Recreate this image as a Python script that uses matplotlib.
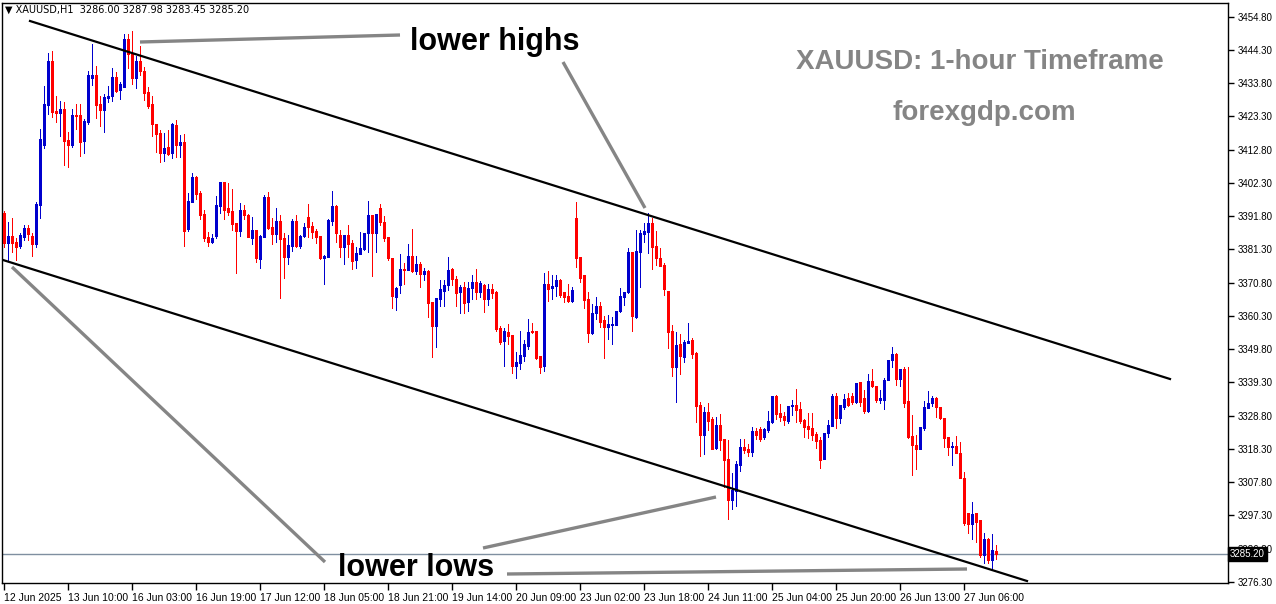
import matplotlib
matplotlib.use("Agg")
import matplotlib.pyplot as plt
import numpy as np

# ---- data: XAUUSD H1 candles (bar 0 = 12 Jun 18:00) ----
opens = [
    3392.7, 3383.2, 3385.6, 3383.7, 3382.5, 3385.3, 3388.2, 3385.6, 3383.0, 3395.3,
    3414.3, 3426.9, 3440.9, 3425.0, 3424.4, 3425.6, 3415.8, 3414.3, 3423.8, 3423.8,
    3415.5, 3421.4, 3435.5, 3436.4, 3427.2, 3425.3, 3429.2, 3429.9, 3435.9, 3431.7,
    3432.7, 3447.8, 3442.9, 3435.5, 3440.8, 3437.6, 3430.9, 3427.2, 3420.9, 3418.0,
    3411.9, 3413.6, 3411.9, 3420.6, 3414.3, 3415.3, 3387.7, 3396.4, 3404.3, 3399.2,
    3392.5, 3385.3, 3383.7, 3385.6, 3395.1, 3402.7, 3394.3, 3393.4, 3389.5, 3387.2,
    3393.8, 3392.2, 3385.0, 3387.4, 3378.2, 3385.3, 3397.7, 3388.5, 3386.1, 3390.2,
    3385.0, 3379.0, 3382.5, 3390.2, 3382.5, 3385.5, 3391.4, 3388.7, 3387.1, 3385.5,
    3378.7, 3379.0, 3390.4, 3395.0, 3386.0, 3382.1, 3385.8, 3383.4, 3377.9, 3379.8,
    3381.3, 3386.6, 3392.1, 3386.6, 3394.3, 3390.0, 3385.1, 3378.7, 3366.4, 3369.9,
    3375.1, 3374.8, 3379.2, 3374.5, 3376.7, 3373.4, 3374.5, 3364.6, 3357.1, 3365.6,
    3368.3, 3370.1, 3375.1, 3372.0, 3368.0, 3369.3, 3364.8, 3369.0, 3371.1, 3368.0,
    3370.1, 3365.5, 3368.8, 3368.0, 3356.6, 3352.5, 3355.3, 3354.3, 3344.5, 3345.4,
    3347.5, 3350.9, 3355.6, 3355.6, 3347.5, 3344.5, 3370.3, 3369.2, 3369.6, 3371.5,
    3367.7, 3366.6, 3365.1, 3391.1, 3379.0, 3373.3, 3365.7, 3355.0, 3361.3, 3363.5,
    3359.0, 3356.9, 3357.5, 3357.5, 3361.7, 3366.4, 3367.7, 3380.6, 3359.8, 3380.6,
    3386.1, 3386.9, 3389.7, 3382.4, 3378.5, 3376.4, 3368.3, 3355.5, 3344.3, 3351.4,
    3347.4, 3351.8, 3352.7, 3348.7, 3332.2, 3322.7, 3330.0, 3327.7, 3318.5, 3325.8,
    3321.3, 3315.1, 3302.2, 3305.1, 3313.2, 3318.8, 3318.2, 3317.2, 3323.9, 3324.6,
    3321.9, 3324.1, 3326.9, 3335.0, 3329.5, 3328.7, 3327.2, 3331.7, 3332.2, 3330.8,
    3327.4, 3325.5, 3324.8, 3322.9, 3321.1, 3315.0, 3323.4, 3325.6, 3335.0, 3328.0,
    3331.6, 3334.3, 3335.0, 3333.0, 3339.3, 3334.3, 3330.4, 3339.7, 3338.2, 3333.7,
    3333.7, 3339.9, 3346.4, 3348.3, 3340.3, 3343.4, 3333.4, 3322.4, 3319.5, 3318.3,
    3324.8, 3331.3, 3332.7, 3334.5, 3331.6, 3328.0, 3322.2, 3319.0, 3319.2, 3316.9,
    3309.2, 3297.9, 3294.6, 3297.9, 3295.8, 3284.8, 3289.8, 3283.2, 3286.00,
]
highs = [
    3393.5, 3390.1, 3391.3, 3384.8, 3386.4, 3389.0, 3389.0, 3386.4, 3396.4, 3419.3,
    3432.9, 3443.2, 3444.0, 3429.8, 3428.2, 3427.8, 3418.3, 3425.6, 3427.2, 3427.2,
    3422.4, 3437.6, 3446.2, 3439.2, 3429.8, 3430.3, 3432.9, 3438.7, 3437.2, 3434.3,
    3449.2, 3449.2, 3450.3, 3442.5, 3445.5, 3439.0, 3432.7, 3429.8, 3420.9, 3419.0,
    3418.2, 3419.0, 3421.1, 3422.2, 3417.4, 3417.6, 3399.2, 3405.5, 3404.6, 3399.9,
    3393.8, 3386.7, 3386.1, 3398.2, 3402.7, 3402.7, 3402.4, 3400.3, 3389.7, 3395.9,
    3395.3, 3392.4, 3391.4, 3387.4, 3385.8, 3398.5, 3399.5, 3391.1, 3394.3, 3392.1,
    3386.4, 3385.8, 3390.9, 3392.1, 3385.8, 3389.5, 3395.6, 3390.0, 3387.9, 3385.5,
    3379.5, 3390.8, 3399.8, 3395.3, 3387.4, 3385.8, 3389.0, 3384.2, 3382.1, 3386.9,
    3386.6, 3396.6, 3392.1, 3392.5, 3395.5, 3392.0, 3385.1, 3378.7, 3369.5, 3379.9,
    3377.1, 3383.0, 3387.8, 3379.2, 3377.4, 3375.3, 3374.8, 3364.6, 3365.9, 3371.6,
    3371.6, 3379.0, 3375.5, 3372.9, 3370.1, 3371.1, 3371.1, 3373.2, 3375.0, 3371.3,
    3370.4, 3370.3, 3370.3, 3368.2, 3357.1, 3356.4, 3357.7, 3354.3, 3348.8, 3355.6,
    3352.7, 3359.4, 3358.2, 3355.6, 3347.5, 3373.8, 3374.5, 3373.3, 3373.3, 3371.9,
    3368.0, 3370.4, 3369.3, 3396.2, 3379.0, 3373.3, 3368.0, 3364.0, 3366.2, 3364.8,
    3360.3, 3360.6, 3360.1, 3362.0, 3369.0, 3368.0, 3381.9, 3380.6, 3387.4, 3387.4,
    3389.5, 3392.9, 3391.1, 3387.2, 3381.9, 3377.1, 3368.3, 3357.4, 3355.3, 3354.5,
    3352.7, 3358.2, 3353.4, 3349.0, 3333.2, 3331.6, 3332.7, 3328.5, 3328.3, 3329.3,
    3321.3, 3321.1, 3310.6, 3314.6, 3321.3, 3321.3, 3319.7, 3325.3, 3324.8, 3325.1,
    3325.0, 3330.3, 3335.0, 3335.3, 3332.4, 3330.1, 3331.9, 3333.7, 3337.2, 3333.0,
    3327.6, 3329.5, 3329.7, 3323.7, 3322.2, 3323.4, 3327.4, 3335.5, 3335.9, 3332.2,
    3335.6, 3336.1, 3335.9, 3339.2, 3339.5, 3336.9, 3342.0, 3343.4, 3338.2, 3336.9,
    3340.6, 3346.4, 3350.6, 3348.7, 3343.4, 3344.3, 3344.3, 3329.0, 3322.7, 3325.1,
    3333.4, 3336.6, 3335.0, 3334.8, 3331.6, 3328.0, 3322.2, 3320.6, 3322.5, 3320.6,
    3311.1, 3297.9, 3301.4, 3297.9, 3295.8, 3291.8, 3290.0, 3291.4, 3287.98,
]
lows = [
    3382.0, 3378.0, 3380.6, 3378.0, 3381.6, 3384.3, 3384.3, 3379.3, 3382.2, 3391.3,
    3413.4, 3424.0, 3423.2, 3421.6, 3417.1, 3408.0, 3407.4, 3413.8, 3419.3, 3410.9,
    3411.9, 3420.9, 3433.2, 3422.9, 3420.4, 3418.5, 3428.0, 3428.2, 3430.9, 3428.8,
    3432.7, 3438.7, 3433.5, 3432.4, 3436.4, 3428.5, 3426.1, 3417.2, 3412.2, 3409.0,
    3409.2, 3411.1, 3410.3, 3410.6, 3410.6, 3382.5, 3387.1, 3396.4, 3397.2, 3390.9,
    3384.0, 3382.5, 3383.2, 3385.0, 3392.7, 3390.9, 3392.2, 3387.4, 3373.7, 3385.6,
    3390.9, 3385.3, 3382.9, 3377.4, 3375.5, 3385.1, 3387.9, 3383.0, 3383.7, 3366.0,
    3372.4, 3376.6, 3380.9, 3382.1, 3381.9, 3385.1, 3385.3, 3384.8, 3383.2, 3378.2,
    3370.4, 3379.0, 3389.0, 3383.7, 3379.0, 3376.7, 3379.0, 3375.0, 3375.3, 3379.8,
    3381.1, 3380.6, 3372.9, 3380.6, 3389.0, 3384.1, 3378.0, 3362.9, 3362.2, 3367.6,
    3370.4, 3374.8, 3374.3, 3373.4, 3369.5, 3371.6, 3360.1, 3347.4, 3350.6, 3363.5,
    3363.4, 3368.5, 3370.1, 3363.4, 3361.3, 3361.3, 3362.0, 3365.6, 3365.6, 3366.2,
    3361.6, 3363.8, 3366.1, 3355.6, 3351.4, 3344.5, 3351.5, 3342.4, 3340.6, 3343.5,
    3346.2, 3349.9, 3354.8, 3346.6, 3342.2, 3342.9, 3365.1, 3365.6, 3366.6, 3366.2,
    3364.6, 3364.8, 3364.8, 3375.7, 3371.1, 3362.7, 3351.9, 3354.5, 3359.2, 3356.7,
    3347.1, 3352.9, 3351.5, 3357.3, 3361.4, 3363.8, 3367.5, 3355.6, 3359.5, 3369.3,
    3383.7, 3380.3, 3375.1, 3376.4, 3376.2, 3366.9, 3350.3, 3341.3, 3333.2, 3341.9,
    3345.8, 3351.6, 3347.1, 3326.9, 3316.0, 3316.7, 3324.3, 3318.1, 3318.3, 3317.9,
    3306.4, 3296.0, 3299.2, 3300.2, 3311.4, 3316.9, 3316.0, 3316.0, 3321.3, 3320.9,
    3321.3, 3323.7, 3326.6, 3327.7, 3327.1, 3325.9, 3326.6, 3329.0, 3326.9, 3326.6,
    3322.0, 3321.6, 3321.1, 3318.5, 3312.2, 3315.0, 3322.0, 3325.5, 3325.0, 3326.4,
    3330.8, 3331.9, 3332.4, 3332.7, 3331.9, 3329.5, 3330.1, 3337.7, 3333.2, 3332.7,
    3330.9, 3339.9, 3344.3, 3338.5, 3338.0, 3331.6, 3321.6, 3310.1, 3311.9, 3318.3,
    3324.1, 3331.1, 3331.9, 3328.5, 3327.6, 3319.0, 3316.4, 3313.2, 3316.9, 3309.0,
    3294.3, 3291.6, 3289.7, 3289.0, 3284.3, 3282.4, 3282.4, 3280.1, 3283.45,
]
closes = [
    3383.2, 3385.6, 3383.2, 3382.2, 3385.9, 3388.2, 3386.1, 3383.0, 3395.6, 3416.2,
    3427.2, 3440.9, 3424.6, 3424.4, 3425.6, 3415.5, 3414.3, 3423.8, 3423.4, 3415.3,
    3421.9, 3436.4, 3436.4, 3426.9, 3425.3, 3429.5, 3429.9, 3435.9, 3431.4, 3433.5,
    3447.8, 3443.0, 3435.5, 3440.8, 3437.6, 3430.8, 3426.6, 3420.8, 3417.6, 3411.9,
    3413.4, 3411.3, 3420.8, 3414.3, 3415.3, 3387.1, 3396.6, 3404.3, 3398.8, 3392.2,
    3385.0, 3383.7, 3385.0, 3395.3, 3402.7, 3393.8, 3393.2, 3389.3, 3387.2, 3393.8,
    3392.2, 3385.3, 3387.4, 3378.7, 3385.5, 3397.7, 3388.1, 3386.1, 3390.2, 3384.6,
    3379.0, 3382.7, 3390.2, 3382.5, 3385.5, 3388.5, 3388.5, 3386.9, 3385.3, 3378.5,
    3379.2, 3390.6, 3395.0, 3386.4, 3382.1, 3385.8, 3383.0, 3377.7, 3380.2, 3381.8,
    3386.6, 3392.1, 3386.6, 3392.5, 3389.8, 3384.8, 3378.7, 3366.6, 3369.0, 3375.0,
    3374.8, 3379.2, 3374.5, 3376.7, 3373.4, 3374.5, 3364.5, 3357.1, 3365.9, 3368.7,
    3370.1, 3374.8, 3371.9, 3367.6, 3369.3, 3364.5, 3369.0, 3370.9, 3368.0, 3370.8,
    3365.5, 3368.7, 3367.6, 3356.1, 3352.2, 3355.6, 3354.1, 3344.5, 3345.6, 3348.0,
    3351.3, 3355.3, 3355.1, 3346.9, 3344.3, 3370.3, 3368.8, 3369.8, 3371.5, 3366.9,
    3366.4, 3365.1, 3368.5, 3378.7, 3372.4, 3365.4, 3355.0, 3361.1, 3363.5, 3358.5,
    3356.7, 3357.8, 3357.8, 3361.9, 3366.6, 3368.0, 3380.4, 3360.3, 3380.8, 3386.4,
    3387.1, 3389.7, 3382.2, 3378.5, 3376.2, 3368.8, 3355.3, 3344.3, 3351.1, 3347.7,
    3351.9, 3352.5, 3348.3, 3331.9, 3322.7, 3330.0, 3327.2, 3318.3, 3325.8, 3321.1,
    3314.8, 3302.2, 3305.3, 3313.5, 3318.8, 3317.9, 3317.4, 3323.9, 3322.7, 3321.4,
    3324.5, 3327.1, 3335.0, 3329.3, 3328.5, 3327.4, 3331.9, 3331.9, 3330.6, 3327.1,
    3325.1, 3324.5, 3322.7, 3320.9, 3314.8, 3323.4, 3325.9, 3335.0, 3328.0, 3332.0,
    3334.1, 3332.2, 3333.0, 3339.2, 3333.2, 3330.4, 3339.7, 3338.0, 3333.7, 3334.3,
    3340.1, 3346.4, 3348.3, 3340.3, 3343.4, 3332.9, 3322.2, 3319.5, 3318.3, 3325.1,
    3331.6, 3332.9, 3334.5, 3331.6, 3328.0, 3321.6, 3319.0, 3319.2, 3316.9, 3309.0,
    3294.8, 3294.6, 3297.7, 3295.3, 3284.8, 3289.8, 3283.2, 3286.4, 3285.20,
]

time_labels = ["12 Jun 2025", "13 Jun 10:00", "16 Jun 03:00", "16 Jun 19:00",
               "17 Jun 12:00", "18 Jun 05:00", "18 Jun 21:00", "19 Jun 14:00",
               "20 Jun 09:00", "23 Jun 02:00", "23 Jun 18:00", "24 Jun 11:00",
               "25 Jun 04:00", "25 Jun 20:00", "26 Jun 13:00", "27 Jun 06:00"]
label_every = 16
price_ticks = [3276.30 + 10.5 * k for k in range(18)]
last_price = 3285.20

# ---- screen mapping (chart was 4 px per bar, 3.166 px per dollar) ----
W, H = 1276, 604
def bx(px):
    return (px - 3.5) / 4.0
def pr(py):
    return 3454.8 - (py - 16.7) / 3.166

BLUE = '#0000CD'
RED = '#FF0000'
GRAY = '#858585'
FONT = 'Liberation Sans'

fig = plt.figure(figsize=(W / 100, H / 100), dpi=100)
fig.patch.set_facecolor('white')
L, R, T, B = 2, 1228, 3, 583
ax = fig.add_axes([L / W, (H - B) / H, (R - L) / W, (B - T) / H])
ax.set_xlim(bx(L), bx(R))
ax.set_ylim(pr(B), pr(T))

o = np.array(opens); h = np.array(highs); l = np.array(lows); c = np.array(closes)
idx = np.arange(len(o))
cols = np.where(c >= o, BLUE, RED)
px_pt = 72.0 / 100.0
ax.vlines(idx, l, h, colors=cols, linewidth=1.0 * px_pt, antialiased=False, zorder=3)
body_lo = np.minimum(o, c)
body_hi = np.maximum(np.maximum(o, c), body_lo + 0.35)
ax.vlines(idx, body_lo, body_hi, colors=cols, linewidth=3.0 * px_pt,
          antialiased=False, zorder=4, capstyle='butt')

# channel lines
ax.plot([bx(30), bx(1170)], [pr(21), pr(379)], color='black', lw=1.6, zorder=5)
ax.plot([bx(3), bx(1027)], [pr(260), pr(581)], color='black', lw=1.6, zorder=5)

# current price line
ax.axhline(last_price, color='#7F8FA0', lw=1.0, zorder=2)

# grey pointer lines
for (x1, y1, x2, y2) in [(140, 42, 400, 35), (563, 62, 645, 208),
                         (12, 267, 325, 562), (483, 548, 716, 497),
                         (507, 574, 967, 569)]:
    ax.plot([bx(x1), bx(x2)], [pr(y1), pr(y2)], color=GRAY, lw=2.4,
            solid_capstyle='butt', zorder=6)

ax.text(bx(410), pr(42), 'lower highs', fontsize=22, fontweight='bold',
        family=FONT, ha='left', va='center', zorder=7)
ax.text(bx(338), pr(568), 'lower lows', fontsize=22, fontweight='bold',
        family=FONT, ha='left', va='center', zorder=7)
ax.text(bx(980), pr(62), 'XAUUSD: 1-hour Timeframe', fontsize=20,
        fontweight='bold', family=FONT, color=GRAY,
        ha='center', va='center', zorder=7)
ax.text(bx(984), pr(113), 'forexgdp.com', fontsize=20, fontweight='bold',
        family=FONT, color=GRAY, ha='center', va='center', zorder=7)

# header
fig.text(5 / W, 1 - 10 / H,
         '\u25BC XAUUSD,H1  %.2f %.2f %.2f %.2f' % (opens[-1], highs[-1], lows[-1], closes[-1]),
         fontsize=7, va='center', ha='left')

# axes styling
for s in ax.spines.values():
    s.set_color('black')
    s.set_linewidth(1.0)
ax.yaxis.tick_right()
ax.set_yticks(price_ticks)
ax.set_yticklabels(['%.2f' % p for p in price_ticks], family=FONT)
ax.tick_params(axis='y', direction='out', length=4, width=1, pad=3, labelsize=7)
ax.set_xticks(idx[::label_every][:len(time_labels)])
ax.set_xticklabels(time_labels, ha='left', family=FONT)
ax.tick_params(axis='x', direction='out', length=5, width=1, pad=2, labelsize=7.5)

# price label box
ax.text(1.0015, last_price, '%.2f' % last_price, transform=ax.get_yaxis_transform(),
        fontsize=7, family=FONT, color='white', va='center', ha='left', zorder=10,
        bbox=dict(boxstyle='square,pad=0.2', facecolor='black', edgecolor='black'))

fig.savefig('out.png', dpi=100, facecolor='white')
